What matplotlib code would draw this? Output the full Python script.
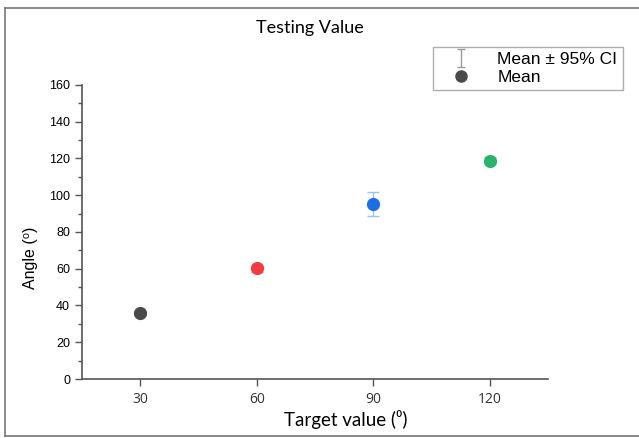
import matplotlib.pyplot as plt
from matplotlib.lines import Line2D
from matplotlib.ticker import MultipleLocator

# values
targets = [30, 60, 90, 120]
means = [36.0, 60.3, 95.0, 118.8]
ci_half = [1.2, 2.0, 6.5, 2.0]
dot_colors = ["#4a4a4a", "#f23c43", "#1b6fe3", "#2bb26c"]
bar_colors = ["#9a9a9a", "#f7a0a3", "#9cc2f5", "#92dab4"]

fig = plt.figure(figsize=(6.39, 4.38), dpi=100)
ax = fig.add_axes([0.1283, 0.1347, 0.7293, 0.6713])

for x, m, e, c, ec in zip(targets, means, ci_half, dot_colors, bar_colors):
    ax.errorbar(x, m, yerr=e, fmt="none", ecolor=ec, elinewidth=1.0,
                capsize=4, capthick=1.0, zorder=2)
    ax.plot(x, m, "o", color=c, ms=8.5, mec=c, zorder=3)

ax.set_xlim(15, 135)
ax.set_ylim(0, 160)
ax.set_xticks(targets)
ax.yaxis.set_major_locator(MultipleLocator(20))
ax.yaxis.set_minor_locator(MultipleLocator(10))
for s in ["top", "right"]:
    ax.spines[s].set_visible(False)
for s in ["left", "bottom"]:
    ax.spines[s].set_color("#555555")
    ax.spines[s].set_linewidth(1.2)
ax.tick_params(axis="both", which="both", color="#555555", width=1.0)
ax.tick_params(axis="y", which="major", length=5, labelsize=9)
ax.tick_params(axis="y", which="minor", length=3)
ax.tick_params(axis="x", length=5, labelsize=10, pad=4)
for lab in ax.get_yticklabels():
    lab.set_family(["Liberation Sans", "DejaVu Sans"])
for lab in ax.get_xticklabels():
    lab.set_family(["Open Sans", "DejaVu Sans"])
    lab.set_color("#333333")

fig.text(0.047, 0.411, "Angle (⁰)", family=["Liberation Sans", "DejaVu Sans"],
         fontsize=11.5, rotation=90, ha="center", va="center")
fig.text(0.541, 0.042, "Target value (⁰)", family=["Lato", "DejaVu Sans"],
         fontsize=13.5, ha="center", va="center")
fig.text(0.485, 0.937, "Testing Value", family=["Lato", "DejaVu Sans"],
         fontsize=13, ha="center", va="center")

# dummy error bar off the axes, only for the legend handle
eb = ax.errorbar([-100], [50], yerr=[5], fmt="none", ecolor="#9a9a9a",
                 elinewidth=1.0, capsize=3, capthick=1.0)
dot = Line2D([0], [0], ls="none", marker="o", color="#4a4a4a", ms=8)
leg = fig.legend([eb, dot], ["Mean ± 95% CI", "Mean"],
                 loc="upper left", bbox_to_anchor=(0.678, 0.893),
                 frameon=True, fancybox=False, edgecolor="#999999",
                 prop={"family": ["Liberation Sans", "DejaVu Sans"], "size": 12.5},
                 borderpad=0.3, labelspacing=0.15, handlelength=2.6,
                 handletextpad=0.8, borderaxespad=0)
leg.get_frame().set_linewidth(1.0)

# outer frame (left, top, bottom; no right edge)
for xs, ys in [([0.008, 0.008], [0.005, 0.982]),
               ([0.008, 1.0], [0.982, 0.982]),
               ([0.008, 1.0], [0.005, 0.005])]:
    fig.add_artist(Line2D(xs, ys, color="#777777", lw=1.2,
                          transform=fig.transFigure))

fig.savefig("out.png", dpi=100)
